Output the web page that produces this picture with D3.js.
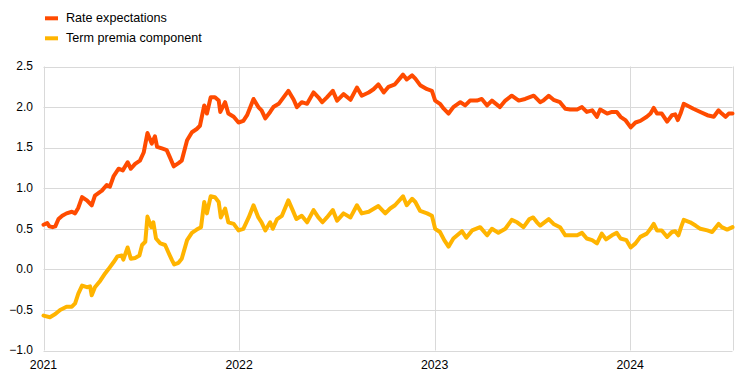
<!DOCTYPE html>
<html><head><meta charset="utf-8">
<script src="https://cdn.jsdelivr.net/npm/d3@7"></script>
<style>
html,body{margin:0;padding:0;background:#fff;}
svg{display:block;font-family:"Liberation Sans",Arial,sans-serif;}
</style></head>
<body>
<svg id="chart" width="743" height="379"></svg>
<script>
const seriesNames = ["Rate expectations", "Term premia component"];
const seriesColors = ["#FF4B00", "#FFB400"];
const yTicks = [-1.0, -0.5, 0.0, 0.5, 1.0, 1.5, 2.0, 2.5];
const xTickLabels = ["2021", "2022", "2023", "2024"];

const rateDates = ["2021-01-01","2021-01-08","2021-01-12","2021-01-18","2021-01-23","2021-01-29","2021-02-05","2021-02-13","2021-02-23","2021-03-01","2021-03-07","2021-03-14","2021-03-23","2021-04-01","2021-04-07","2021-04-20","2021-04-29","2021-05-05","2021-05-12","2021-05-21","2021-05-29","2021-06-07","2021-06-13","2021-06-21","2021-06-30","2021-07-07","2021-07-14","2021-07-22","2021-07-28","2021-08-01","2021-08-10","2021-08-19","2021-08-25","2021-09-01","2021-09-10","2021-09-16","2021-09-26","2021-10-05","2021-10-14","2021-10-20","2021-10-28","2021-11-02","2021-11-09","2021-11-17","2021-11-24","2021-11-27","2021-12-06","2021-12-12","2021-12-22","2021-12-31","2022-01-09","2022-01-16","2022-01-28","2022-02-06","2022-02-12","2022-02-19","2022-02-28","2022-03-06","2022-03-16","2022-03-25","2022-04-03","2022-04-13","2022-04-19","2022-04-28","2022-05-08","2022-05-20","2022-05-29","2022-06-05","2022-06-14","2022-06-25","2022-07-03","2022-07-15","2022-07-28","2022-08-09","2022-08-18","2022-08-31","2022-09-09","2022-09-18","2022-09-28","2022-10-07","2022-10-19","2022-11-03","2022-11-10","2022-11-20","2022-11-26","2022-12-05","2022-12-18","2022-12-27","2023-01-02","2023-01-11","2023-01-18","2023-01-27","2023-02-05","2023-02-18","2023-02-27","2023-03-08","2023-03-21","2023-03-30","2023-04-09","2023-04-18","2023-05-03","2023-05-13","2023-05-25","2023-06-07","2023-06-19","2023-07-05","2023-07-11","2023-07-17","2023-07-23","2023-08-02","2023-08-11","2023-08-23","2023-09-02","2023-09-11","2023-09-24","2023-10-03","2023-10-12","2023-10-22","2023-10-31","2023-11-06","2023-11-19","2023-11-28","2023-12-07","2023-12-14","2023-12-23","2024-01-02","2024-01-11","2024-01-20","2024-02-01","2024-02-08","2024-02-14","2024-02-20","2024-02-29","2024-03-10","2024-03-19","2024-03-25","2024-03-30","2024-04-04","2024-04-10","2024-04-19","2024-04-28","2024-05-11","2024-05-24","2024-06-05","2024-06-14","2024-06-20","2024-06-27","2024-07-03","2024-07-10"];
const rateValues = [0.55,0.57,0.53,0.52,0.53,0.62,0.66,0.69,0.71,0.69,0.76,0.89,0.85,0.79,0.91,0.97,1.04,1.02,1.15,1.24,1.22,1.32,1.24,1.30,1.34,1.44,1.68,1.55,1.64,1.51,1.49,1.47,1.38,1.27,1.31,1.34,1.59,1.69,1.73,1.77,2.02,1.92,2.12,2.12,2.08,1.94,2.06,1.92,1.88,1.81,1.83,1.90,2.10,2.00,1.96,1.86,1.94,2.00,2.04,2.12,2.20,2.09,2.00,2.06,2.04,2.18,2.12,2.06,2.12,2.20,2.08,2.16,2.09,2.24,2.14,2.18,2.22,2.28,2.18,2.25,2.28,2.40,2.34,2.39,2.35,2.27,2.22,2.20,2.08,2.04,1.98,1.92,2.00,2.06,2.02,2.08,2.08,2.10,2.02,2.08,2.00,2.08,2.14,2.08,2.10,2.14,2.10,2.06,2.08,2.14,2.09,2.06,1.98,1.97,1.97,2.00,1.94,1.96,1.88,1.97,1.92,1.94,1.94,1.88,1.84,1.75,1.81,1.83,1.88,1.92,1.99,1.92,1.92,1.82,1.90,1.91,1.84,1.92,2.04,2.01,1.98,1.94,1.90,1.88,1.96,1.92,1.88,1.92,1.92];

const premiaDates = ["2021-01-01","2021-01-13","2021-01-23","2021-02-01","2021-02-13","2021-02-23","2021-03-01","2021-03-07","2021-03-14","2021-03-23","2021-03-29","2021-04-01","2021-04-07","2021-04-17","2021-04-26","2021-05-02","2021-05-12","2021-05-19","2021-05-27","2021-05-30","2021-06-07","2021-06-13","2021-06-21","2021-06-29","2021-07-04","2021-07-10","2021-07-14","2021-07-21","2021-07-25","2021-07-30","2021-08-07","2021-08-16","2021-08-22","2021-08-29","2021-09-02","2021-09-10","2021-09-16","2021-09-26","2021-10-05","2021-10-14","2021-10-22","2021-10-28","2021-11-02","2021-11-09","2021-11-17","2021-11-24","2021-11-28","2021-12-06","2021-12-12","2021-12-22","2021-12-31","2022-01-09","2022-01-19","2022-01-28","2022-02-06","2022-02-12","2022-02-19","2022-02-28","2022-03-05","2022-03-13","2022-03-22","2022-04-03","2022-04-11","2022-04-18","2022-04-28","2022-05-08","2022-05-20","2022-05-29","2022-06-06","2022-06-14","2022-06-25","2022-07-03","2022-07-15","2022-07-28","2022-08-09","2022-08-18","2022-08-31","2022-09-18","2022-10-01","2022-10-10","2022-10-19","2022-11-03","2022-11-10","2022-11-20","2022-11-26","2022-12-05","2022-12-18","2022-12-27","2023-01-02","2023-01-11","2023-01-19","2023-01-27","2023-02-05","2023-02-21","2023-03-01","2023-03-12","2023-03-27","2023-04-09","2023-04-18","2023-04-30","2023-05-13","2023-05-25","2023-06-04","2023-06-16","2023-06-27","2023-07-04","2023-07-11","2023-07-17","2023-08-02","2023-08-11","2023-08-23","2023-09-02","2023-09-11","2023-09-24","2023-10-03","2023-10-12","2023-10-22","2023-10-31","2023-11-09","2023-11-17","2023-11-28","2023-12-07","2023-12-14","2023-12-25","2024-01-02","2024-01-11","2024-01-20","2024-02-01","2024-02-08","2024-02-14","2024-02-20","2024-02-29","2024-03-10","2024-03-19","2024-03-25","2024-03-31","2024-04-05","2024-04-10","2024-04-22","2024-05-02","2024-05-11","2024-05-24","2024-06-02","2024-06-14","2024-06-20","2024-06-30","2024-07-10"];
const premiaValues = [-0.57,-0.59,-0.55,-0.50,-0.46,-0.46,-0.42,-0.30,-0.20,-0.22,-0.21,-0.32,-0.22,-0.14,-0.05,0.00,0.09,0.16,0.17,0.12,0.27,0.13,0.14,0.17,0.30,0.34,0.65,0.52,0.58,0.38,0.32,0.30,0.21,0.11,0.06,0.08,0.13,0.36,0.45,0.49,0.52,0.83,0.69,0.90,0.89,0.83,0.64,0.75,0.58,0.56,0.48,0.50,0.64,0.79,0.64,0.58,0.48,0.58,0.50,0.62,0.66,0.85,0.73,0.62,0.66,0.58,0.73,0.64,0.58,0.64,0.73,0.60,0.69,0.64,0.79,0.69,0.71,0.78,0.69,0.75,0.79,0.90,0.79,0.87,0.83,0.72,0.69,0.66,0.50,0.46,0.36,0.28,0.38,0.47,0.39,0.48,0.52,0.42,0.50,0.45,0.50,0.61,0.58,0.52,0.62,0.64,0.58,0.54,0.62,0.56,0.52,0.42,0.42,0.42,0.45,0.38,0.36,0.32,0.44,0.37,0.42,0.45,0.38,0.36,0.27,0.32,0.40,0.44,0.50,0.56,0.48,0.48,0.40,0.46,0.47,0.42,0.52,0.61,0.58,0.54,0.50,0.48,0.46,0.56,0.52,0.49,0.52];

const parse = d3.timeParse("%Y-%m-%d");
const svg = d3.select("#chart");
const margin = {left: 43.5, right: 732.5, top: 66.5, bottom: 350.5};

const x = d3.scaleTime()
  .domain([parse("2021-01-01"), parse("2024-07-10")])
  .range([margin.left, margin.right]);
const y = d3.scaleLinear().domain([-1, 2.5]).range([margin.bottom, margin.top]);

const grid = "#d9d9d9";
// horizontal gridlines
svg.append("g").selectAll("line").data(yTicks).join("line")
  .attr("x1", margin.left).attr("x2", margin.right)
  .attr("y1", d => Math.round(y(d)) + 0.5).attr("y2", d => Math.round(y(d)) + 0.5)
  .attr("stroke", grid).attr("stroke-width", 1);
// vertical gridlines (years) + right border
const yearDates = xTickLabels.map(s => parse(s + "-01-01"));
svg.append("g").selectAll("line").data(yearDates.concat([x.domain()[1]])).join("line")
  .attr("x1", d => Math.round(x(d)) + 0.5).attr("x2", d => Math.round(x(d)) + 0.5)
  .attr("y1", margin.top).attr("y2", margin.bottom)
  .attr("stroke", grid).attr("stroke-width", 1);

// y axis labels
svg.append("g").selectAll("text").data(yTicks).join("text")
  .attr("x", 33).attr("y", d => y(d) + 3.8)
  .attr("text-anchor", "end").attr("font-size", 12).attr("fill", "#000")
  .text(d => d3.format(".1f")(d));

// x axis labels
svg.append("g").selectAll("text").data(yearDates).join("text")
  .attr("x", d => x(d)).attr("y", 368.5)
  .attr("text-anchor", "middle").attr("font-size", 12.3).attr("fill", "#000")
  .text((d, i) => xTickLabels[i]);

// lines
const line = d3.line().x(d => x(d[0])).y(d => y(d[1]));
const series = [
  d3.zip(rateDates.map(parse), rateValues),
  d3.zip(premiaDates.map(parse), premiaValues)
];
series.slice().reverse().forEach((s, idx) => {
  const i = series.length - 1 - idx;
  svg.append("path").datum(s)
    .attr("d", line).attr("fill", "none")
    .attr("stroke", seriesColors[i]).attr("stroke-width", 4)
    .attr("stroke-linejoin", "round").attr("stroke-linecap", "round");
});

// legend
const leg = svg.append("g");
seriesNames.forEach((n, i) => {
  const yy = 18.3 + i * 20;
  leg.append("rect").attr("x", 45).attr("y", yy - 2).attr("width", 13).attr("height", 4)
    .attr("fill", seriesColors[i]);
  leg.append("text").attr("x", 66).attr("y", yy + 3.4).attr("font-size", 12.6).attr("fill", "#000").text(n);
});
</script>
</body></html>
